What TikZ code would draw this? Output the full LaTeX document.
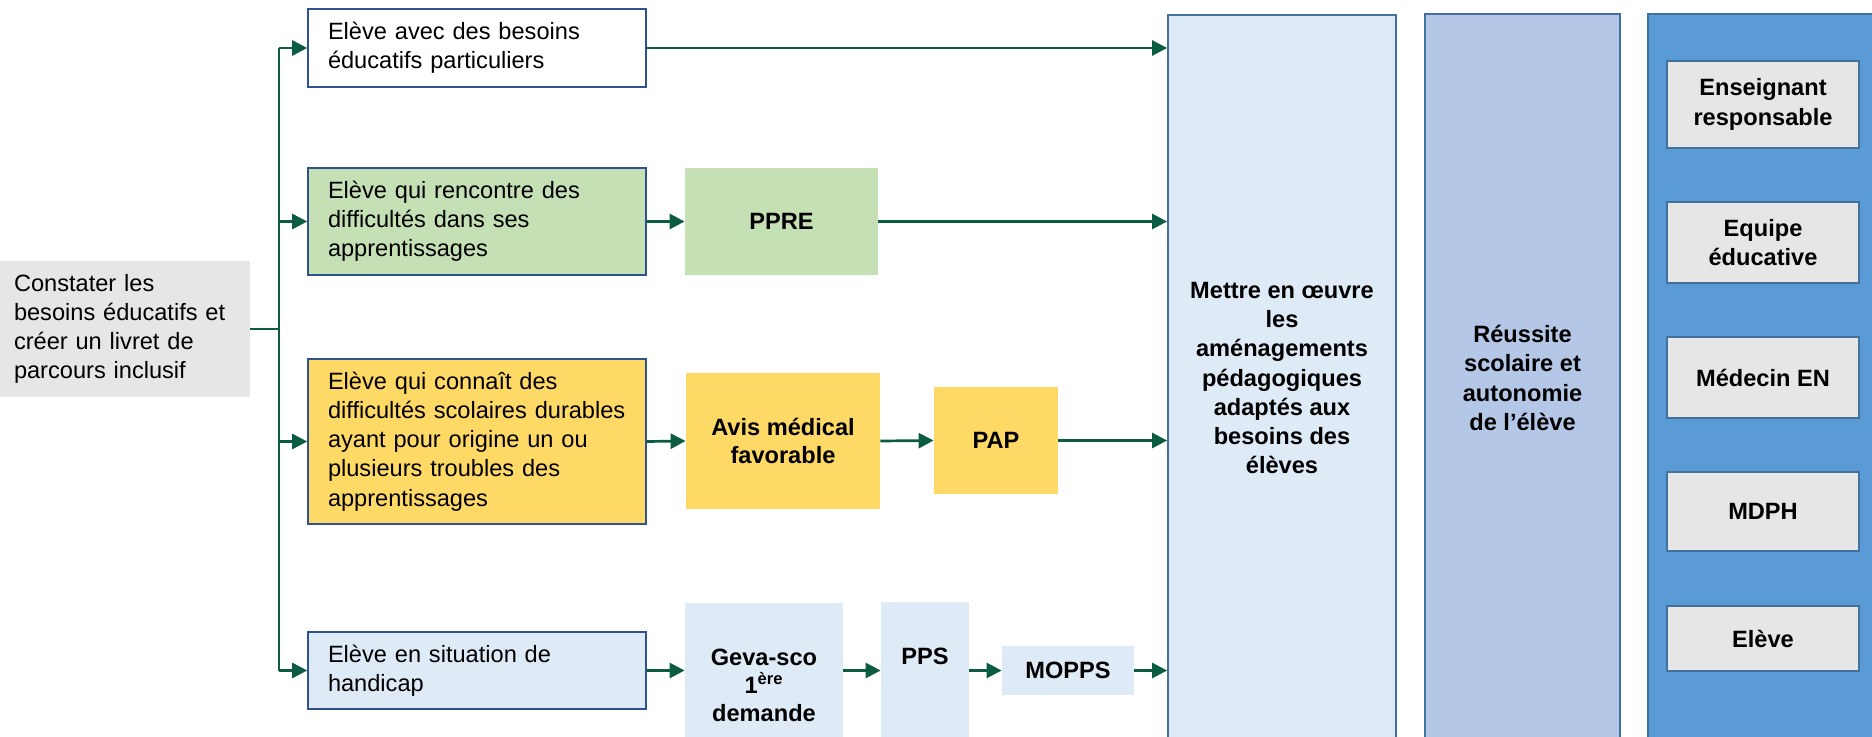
\documentclass[tikz,border=0pt]{standalone}
\usepackage{fontspec}
\setmainfont{Liberation Sans}
\usetikzlibrary{arrows.meta,calc}
\definecolor{arrowgreen}{HTML}{0B5C43}
\definecolor{darkborder}{HTML}{2F528F}
\definecolor{midborder}{HTML}{41719C}
\definecolor{greenfill}{HTML}{C5E0B4}
\definecolor{yellowfill}{HTML}{FFD966}
\definecolor{lightblue}{HTML}{DEEBF7}
\definecolor{midblue}{HTML}{B4C7E7}
\definecolor{strongblue}{HTML}{5B9BD5}
\definecolor{lightgray}{HTML}{E6E6E6}
\definecolor{innergray}{HTML}{E7E6E6}
\begin{document}
\begin{tikzpicture}[x=0.5pt,y=-0.5pt,
  font=\fontsize{11.8pt}{14.6pt}\selectfont,
  catbox/.style={draw=darkborder, line width=0.8pt, align=left, text width=149pt, inner xsep=10pt, inner ysep=0pt},
  plainbox/.style={draw=none, align=center, inner sep=0pt, font=\fontsize{11.8pt}{14.2pt}\selectfont\bfseries},
  colbox/.style={draw=midborder, line width=0.9pt, align=center, inner sep=0pt, font=\fontsize{11.8pt}{14.6pt}\selectfont\bfseries},
  actor/.style={draw=midborder, line width=1.1pt, fill=innergray, align=center, inner sep=0pt, minimum width=96pt, font=\fontsize{11.8pt}{14.6pt}\selectfont\bfseries},
  link/.style={draw=arrowgreen, line width=1.35pt},
  arr/.style={link, -{Triangle[length=7.5pt,width=7.5pt]}}
]
\useasboundingbox (0,0) rectangle (1872,737);
\clip (0,0) rectangle (1872,737);
\fill[white] (0,0) rectangle (1872,737);

% left source box
\node[fill=lightgray, align=left, text width=111pt, inner xsep=7pt, inner ysep=0pt, minimum height=68pt] (gray) at (125,329)
  {Constater les\\besoins éducatifs et\\créer un livret de\\parcours inclusif};

% category boxes
\node[catbox, fill=white, minimum height=39pt] (b1) at (477,48) {Elève avec des besoins\\éducatifs particuliers};
\node[catbox, fill=greenfill, minimum height=53.5pt] (b2) at (477,221.5) {Elève qui rencontre des\\difficultés dans ses\\apprentissages};
\node[catbox, fill=yellowfill, minimum height=82.5pt] (b3) at (477,441.5) {Elève qui connaît des\\difficultés scolaires durables\\ayant pour origine un ou\\plusieurs troubles des\\apprentissages};
\node[catbox, fill=lightblue, minimum height=38.5pt] (b4) at (477,670.5) {Elève en situation de\\handicap};

% intermediate boxes
\node[plainbox, fill=greenfill, minimum width=96.5pt, minimum height=53.5pt] (ppre) at (781.5,221.5) {PPRE};
\node[plainbox, fill=yellowfill, minimum width=97pt, minimum height=68pt] (avis) at (783,441) {Avis médical\\favorable};
\node[plainbox, fill=yellowfill, minimum width=62pt, minimum height=53.5pt] (pap) at (996,440.5) {PAP};
\node[plainbox, fill=lightblue, minimum width=79pt, minimum height=71pt] (geva) at (764,674) {};
\node[plainbox, font=\fontsize{11.8pt}{14pt}\selectfont\bfseries] (gevatext) at (764,685) {Geva-sco\\1\textsuperscript{ère}\\demande};
\node[plainbox, fill=lightblue, minimum width=44pt, minimum height=71.5pt] (pps) at (925,673.5) {};
\node[plainbox] (ppstext) at (925,656) {PPS};
\node[plainbox, fill=lightblue, minimum width=66pt, minimum height=24.5pt] (mopps) at (1068,670.5) {MOPPS};

% columns
\node[colbox, fill=lightblue, minimum width=114pt, minimum height=363pt] (mettre) at (1282,378)
  {Mettre en œuvre\\les\\aménagements\\pédagogiques\\adaptés aux\\besoins des\\élèves};
\node[colbox, fill=midblue, minimum width=97.5pt, minimum height=364pt] (reussite) at (1522.5,378)
  {Réussite\\scolaire et\\autonomie\\de l’élève};
\node[colbox, fill=strongblue, minimum width=118.5pt, minimum height=365.5pt] (acteurs) at (1766.5,379.5) {};

\node[actor, minimum height=43.5pt] (ens) at (1763,104.5) {Enseignant\\responsable};
\node[actor, minimum height=40.5pt] (equ) at (1763,242.5) {Equipe\\éducative};
\node[actor, minimum height=40.5pt] (med) at (1763,377.5) {Médecin EN};
\node[actor, minimum height=39.5pt] (mdph) at (1763,511.5) {MDPH};
\node[actor, minimum height=32.5pt] (eleve) at (1763,638.5) {Elève};

% connectors
\coordinate (trunk) at (279,0);
\draw[link] (gray.east) -- (gray.east -| trunk);
\draw[link] (b1.west -| trunk) -- (b4.west -| trunk);
\draw[arr] (b1.west -| trunk) -- (b1.west);
\draw[arr] (b2.west -| trunk) -- (b2.west);
\draw[arr] (b3.west -| trunk) -- (b3.west);
\draw[arr] (b4.west -| trunk) -- (b4.west);

\draw[arr] (b1.east) -- (b1.east -| mettre.west);
\draw[arr] (b2.east) -- (ppre.west);
\draw[arr] (ppre.east) -- (ppre.east -| mettre.west);
\draw[arr] (b3.east) -- (avis.west);
\draw[arr] (avis.east) -- (pap.west);
\draw[arr] (pap.east) -- (pap.east -| mettre.west);
\draw[arr] (b4.east) -- (b4.east -| geva.west);
\draw[arr] (b4.east -| geva.east) -- (b4.east -| pps.west);
\draw[arr] (b4.east -| pps.east) -- (mopps.west);
\draw[arr] (mopps.east) -- (mopps.east -| mettre.west);
\end{tikzpicture}
\end{document}
